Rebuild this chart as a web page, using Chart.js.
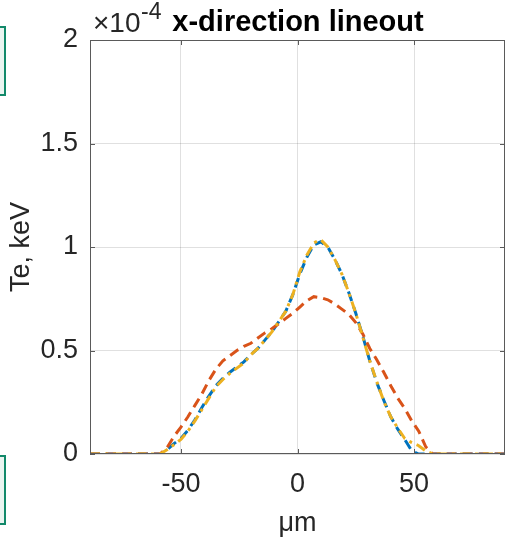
<!DOCTYPE html>
<html>
<head>
<meta charset="utf-8">
<script src="https://cdn.jsdelivr.net/npm/chart.js@4/dist/chart.umd.min.js"></script>
<style>
  html, body { margin: 0; padding: 0; background: #fff; }
  #wrap { position: relative; width: 512px; height: 540px; }
  .tab { position: absolute; left: -3px; width: 5px; border: 2px solid #12896a; background: #eaf4f0; }
</style>
</head>
<body>
<div id="wrap">
  <canvas id="chart" width="512" height="540"></canvas>
  <div class="tab" style="top:26px;height:66px"></div>
  <div class="tab" style="top:455px;height:66px"></div>
</div>
<script>
// x positions (um) and Te values (in units of 1e-4 keV, as on the axis)
const xPos = [-89, -59, -56, -53, -50, -47, -44, -41, -38, -35, -32, -29, -26, -23, -20, -17, -14, -11, -8, -5, -2, 1, 4, 7, 10, 13, 16, 19, 22, 25, 28, 31, 34, 37, 40, 43, 46, 49, 52, 55, 58, 61, 89];
const blueVals = [0, 0, 0.02, 0.05, 0.075, 0.115, 0.165, 0.225, 0.28, 0.33, 0.365, 0.395, 0.42, 0.445, 0.48, 0.51, 0.55, 0.59, 0.64, 0.69, 0.77, 0.87, 0.95, 1.01, 1.025, 1.0, 0.94, 0.87, 0.78, 0.68, 0.57, 0.45, 0.345, 0.26, 0.18, 0.12, 0.07, 0.015, 0, 0, 0, 0, 0];
const orangeVals = [0, 0, 0.03, 0.085, 0.13, 0.18, 0.235, 0.29, 0.355, 0.41, 0.45, 0.475, 0.5, 0.52, 0.535, 0.56, 0.585, 0.605, 0.63, 0.655, 0.68, 0.71, 0.74, 0.76, 0.755, 0.745, 0.725, 0.7, 0.675, 0.635, 0.58, 0.51, 0.455, 0.395, 0.33, 0.27, 0.22, 0.16, 0.11, 0.035, 0, 0, 0];
const yellowVals = [0, 0, 0.02, 0.045, 0.07, 0.11, 0.16, 0.215, 0.27, 0.325, 0.36, 0.39, 0.415, 0.44, 0.48, 0.51, 0.55, 0.59, 0.64, 0.69, 0.77, 0.88, 0.96, 1.02, 1.035, 1.0, 0.94, 0.87, 0.78, 0.68, 0.565, 0.45, 0.35, 0.255, 0.18, 0.125, 0.075, 0.055, 0.04, 0.015, 0, 0, 0];
const xTicks = [-50, 0, 50];
const yTicks = [0, 0.5, 1, 1.5, 2];

const FONT = '"Liberation Sans", Arial, Helvetica, sans-serif';
const pts = vals => xPos.map((x, i) => ({ x: x, y: vals[i] }));

// box around the axes, inside tick marks, title and exponent label
const matlabAxes = {
  id: 'matlabAxes',
  afterDraw(chart) {
    const { ctx, chartArea: a, scales } = chart;
    ctx.save();
    ctx.strokeStyle = '#5a5a5a';
    ctx.lineWidth = 1;
    ctx.strokeRect(a.left + 0.5, a.top + 0.5, a.right - a.left - 1, a.bottom - a.top - 1);
    ctx.beginPath();
    xTicks.forEach(v => {
      const px = Math.round(scales.x.getPixelForValue(v)) + 0.5;
      ctx.moveTo(px, a.bottom); ctx.lineTo(px, a.bottom - 5);
      ctx.moveTo(px, a.top); ctx.lineTo(px, a.top + 5);
    });
    yTicks.forEach(v => {
      const py = Math.round(scales.y.getPixelForValue(v)) + 0.5;
      ctx.moveTo(a.left, py); ctx.lineTo(a.left + 5, py);
      ctx.moveTo(a.right, py); ctx.lineTo(a.right - 5, py);
    });
    ctx.stroke();

    ctx.fillStyle = '#262626';
    ctx.textBaseline = 'alphabetic';
    ctx.textAlign = 'left';
    ctx.font = '28px ' + FONT;
    ctx.fillText('\u00d710', 93, 32);
    ctx.font = '23px ' + FONT;
    ctx.fillText('-4', 141, 19);
    ctx.fillStyle = '#000';
    ctx.font = 'bold 29px ' + FONT;
    ctx.textAlign = 'center';
    ctx.fillText('x-direction lineout', 298, 31);
    ctx.restore();
  }
};

new Chart(document.getElementById('chart').getContext('2d'), {
  type: 'line',
  data: {
    datasets: [
      { data: pts(blueVals), order: 3, borderColor: '#0072BD', borderWidth: 3, borderDash: [10, 6], pointRadius: 0, fill: false },
      { data: pts(orangeVals), order: 2, borderColor: '#D95319', borderWidth: 3, borderDash: [10, 6], pointRadius: 0, fill: false },
      { data: pts(yellowVals), order: 1, borderColor: '#EDB120', borderWidth: 3, borderDash: [10, 5, 3, 5], pointRadius: 0, fill: false }
    ]
  },
  options: {
    responsive: false,
    animation: false,
    layout: { padding: { top: 40, right: 7, left: 0, bottom: 0 } },
    plugins: { legend: { display: false }, tooltip: { enabled: false }, title: { display: false } },
    scales: {
      x: {
        type: 'linear',
        min: -89, max: 89,
        afterBuildTicks: s => { s.ticks = xTicks.map(v => ({ value: v })); },
        afterFit: s => { s.height = 86; },
        grid: { color: 'rgba(0,0,0,0.12)', drawTicks: false },
        border: { display: false },
        ticks: { color: '#262626', padding: 14, maxRotation: 0, font: { family: FONT, size: 27 } },
        title: { display: true, text: '\u03bcm', color: '#262626', padding: { top: 9, bottom: 0 }, font: { family: FONT, size: 27 } }
      },
      y: {
        min: 0, max: 2,
        afterBuildTicks: s => { s.ticks = yTicks.map(v => ({ value: v })); },
        afterFit: s => { s.width = 90; },
        grid: { color: 'rgba(0,0,0,0.12)', drawTicks: false },
        border: { display: false },
        ticks: { color: '#262626', padding: 12, font: { family: FONT, size: 27 }, callback: v => String(v) },
        title: { display: true, text: 'Te, keV', color: '#262626', padding: { top: 5, bottom: 0 }, font: { family: FONT, size: 27 } }
      }
    }
  },
  plugins: [matlabAxes]
});
</script>
</body>
</html>
